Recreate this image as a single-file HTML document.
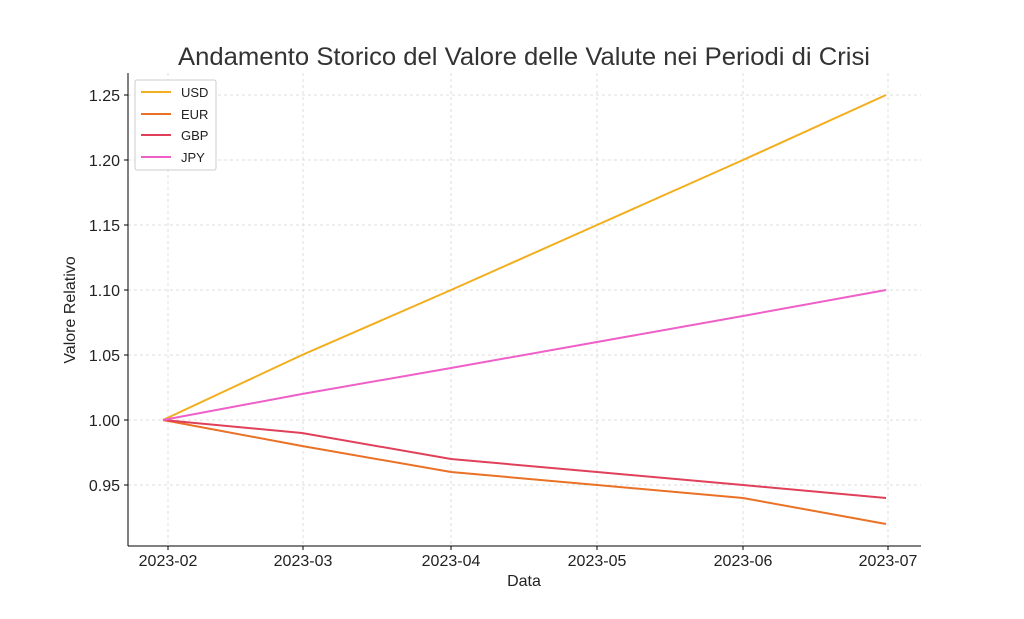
<!DOCTYPE html>
<html><head><meta charset="utf-8"><style>body{margin:0;background:#fff}</style></head><body>
<svg width="1024" height="614" xmlns="http://www.w3.org/2000/svg" font-family="Liberation Sans, DejaVu Sans, sans-serif">
<rect width="1024" height="614" fill="#fff"/>
<g stroke="#d4d4d4" stroke-dasharray="3,3" stroke-width="0.8">
<line x1="168" y1="73" x2="168" y2="546"/><line x1="303" y1="73" x2="303" y2="546"/>
<line x1="451" y1="73" x2="451" y2="546"/><line x1="597" y1="73" x2="597" y2="546"/>
<line x1="743" y1="73" x2="743" y2="546"/><line x1="888" y1="73" x2="888" y2="546"/>
<line x1="128" y1="95" x2="921" y2="95"/><line x1="128" y1="160" x2="921" y2="160"/>
<line x1="128" y1="225" x2="921" y2="225"/><line x1="128" y1="290" x2="921" y2="290"/>
<line x1="128" y1="355" x2="921" y2="355"/><line x1="128" y1="420" x2="921" y2="420"/>
<line x1="128" y1="485" x2="921" y2="485"/>
</g>
<g fill="none" stroke-width="2">
<polyline stroke="#f2ae1c" points="163,420 302,355 451,290 597,225 743,160 886,95"/>
<polyline stroke="#ea7125" points="163,420 302,446 451,472 597,485 743,498 886,524"/>
<polyline stroke="#e0405a" points="163,420 302,433 451,459 597,472 743,485 886,498"/>
<polyline stroke="#ef5fc8" points="163,420 302,394 451,368 597,342 743,316 886,290"/>
</g>
<g stroke="#000" stroke-width="1">
<line x1="128" y1="73" x2="128" y2="546"/><line x1="128" y1="546" x2="921" y2="546"/>
<line x1="124" y1="95" x2="128" y2="95"/><line x1="124" y1="160" x2="128" y2="160"/><line x1="124" y1="225" x2="128" y2="225"/>
<line x1="124" y1="290" x2="128" y2="290"/><line x1="124" y1="355" x2="128" y2="355"/><line x1="124" y1="420" x2="128" y2="420"/><line x1="124" y1="485" x2="128" y2="485"/>
<line x1="168" y1="546" x2="168" y2="550"/><line x1="303" y1="546" x2="303" y2="550"/><line x1="451" y1="546" x2="451" y2="550"/>
<line x1="597" y1="546" x2="597" y2="550"/><line x1="743" y1="546" x2="743" y2="550"/><line x1="888" y1="546" x2="888" y2="550"/>
</g>
<g font-size="16" fill="#222" text-anchor="end">
<text x="120" y="101">1.25</text><text x="120" y="166">1.20</text><text x="120" y="231">1.15</text>
<text x="120" y="296">1.10</text><text x="120" y="361">1.05</text><text x="120" y="426">1.00</text><text x="120" y="491">0.95</text>
</g>
<g font-size="16" fill="#222" text-anchor="middle">
<text x="168" y="566">2023-02</text><text x="303" y="566">2023-03</text><text x="451" y="566">2023-04</text>
<text x="597" y="566">2023-05</text><text x="743" y="566">2023-06</text><text x="888" y="566">2023-07</text>
<text x="524" y="586">Data</text>
<text x="524" y="65" font-size="25" fill="#333" textLength="692" lengthAdjust="spacingAndGlyphs">Andamento Storico del Valore delle Valute nei Periodi di Crisi</text>
<text transform="translate(75,310) rotate(-90)">Valore Relativo</text>
</g>
<rect x="135" y="80" width="81" height="90" fill="#fff" stroke="#ccc" rx="2"/>
<g stroke-width="2">
<line x1="141" y1="92" x2="171" y2="92" stroke="#f2ae1c"/>
<line x1="141" y1="114" x2="171" y2="114" stroke="#ea7125"/>
<line x1="141" y1="135" x2="171" y2="135" stroke="#e0405a"/>
<line x1="141" y1="157" x2="171" y2="157" stroke="#ef5fc8"/>
</g>
<g font-size="13" fill="#222">
<text x="181" y="97">USD</text><text x="181" y="119">EUR</text><text x="181" y="140">GBP</text><text x="181" y="162">JPY</text>
</g>
</svg>
</body></html>
